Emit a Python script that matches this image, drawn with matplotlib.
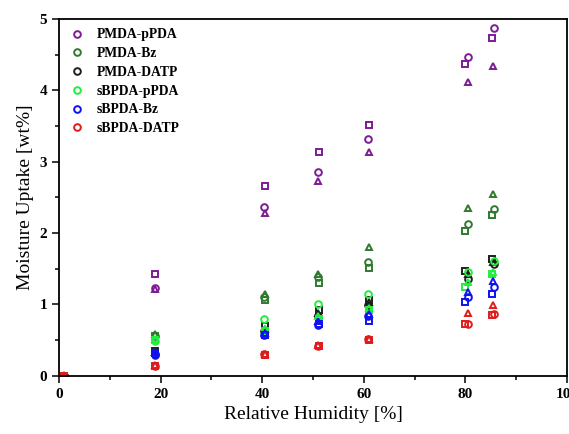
import matplotlib.pyplot as plt
from matplotlib.ticker import MultipleLocator

plt.rcParams['font.family'] = ['Liberation Serif', 'DejaVu Serif']

# Relative humidity of each measurement (three replicate samples)
rh_circle = [1, 18.8, 40.4, 50.9, 60.9, 80.5, 85.7]
rh_square = [1, 18.8, 40.6, 51.1, 61.0, 80.0, 85.3]
rh_triangle = [1, 18.8, 40.5, 50.9, 61.1, 80.5, 85.4]

labels = ['PMDA-pPDA', 'PMDA-Bz', 'PMDA-DATP', 'sBPDA-pPDA', 'sBPDA-Bz', 'sBPDA-DATP']
colors = ['#7b1c93', '#2f7a2f', '#1e1e1e', '#22ee3e', '#1010f0', '#e01b1b']

# Moisture uptake [wt%]
circle_vals = [
    [0, 1.23, 2.37, 2.85, 3.32, 4.47, 4.88],
    [0, 0.55, 1.10, 1.39, 1.60, 2.12, 2.33],
    [0, 0.31, 0.63, 0.84, 0.99, 1.35, 1.56],
    [0, 0.49, 0.80, 1.00, 1.14, 1.45, 1.61],
    [0, 0.29, 0.57, 0.71, 0.84, 1.11, 1.25],
    [0, 0.14, 0.30, 0.41, 0.51, 0.72, 0.87],
]
square_vals = [
    [0, 1.42, 2.66, 3.13, 3.51, 4.37, 4.74],
    [0, 0.55, 1.06, 1.30, 1.51, 2.03, 2.25],
    [0, 0.35, 0.70, 0.92, 1.06, 1.47, 1.64],
    [0, 0.50, 0.62, 0.80, 0.92, 1.25, 1.42],
    [0, 0.32, 0.57, 0.72, 0.76, 1.04, 1.14],
    [0, 0.13, 0.29, 0.41, 0.50, 0.72, 0.85],
]
triangle_vals = [
    [0, 1.21, 2.28, 2.73, 3.13, 4.12, 4.34],
    [0, 0.59, 1.14, 1.43, 1.80, 2.35, 2.55],
    [0, 0.33, 0.66, 0.88, 1.03, 1.42, 1.60],
    [0, 0.52, 0.66, 0.83, 0.95, 1.31, 1.46],
    [0, 0.33, 0.60, 0.76, 0.87, 1.18, 1.33],
    [0.01, 0.15, 0.31, 0.43, 0.52, 0.88, 0.99],
]

fig = plt.figure(figsize=(5.69, 4.34), dpi=100)
ax = fig.add_axes([0.1037, 0.1343, 0.8928, 0.822])

ms = 4.8
mew = 1.4
for i in range(len(labels)):
    c = colors[i]
    ax.plot(rh_circle, circle_vals[i], 'o', ms=ms, mew=mew, mfc='none', mec=c, label=labels[i])
    ax.plot(rh_square, square_vals[i], 's', ms=ms - 0.6, mew=mew, mfc='none', mec=c)
    ax.plot(rh_triangle, triangle_vals[i], '^', ms=ms, mew=mew, mfc='none', mec=c)

ax.set_xlim(0, 100)
ax.set_ylim(0, 5)
ax.xaxis.set_major_locator(MultipleLocator(20))
ax.xaxis.set_minor_locator(MultipleLocator(10))
ax.yaxis.set_major_locator(MultipleLocator(1))
ax.yaxis.set_minor_locator(MultipleLocator(0.5))
ax.tick_params(which='both', direction='out', width=1.1, top=False, right=False)
ax.tick_params(which='major', length=5, labelsize=11)
ax.tick_params(which='minor', length=3)
for lab in ax.get_xticklabels() + ax.get_yticklabels():
    lab.set_fontweight('bold')
for s in ax.spines.values():
    s.set_linewidth(1.3)

ax.set_xlabel('Relative Humidity [%]', fontsize=14)
ax.set_ylabel('Moisture Uptake [wt%]', fontsize=14)

leg = ax.legend(loc='upper left', frameon=False, prop={'weight': 'bold', 'size': 9.8},
                handletextpad=0.9, labelspacing=0.42, borderaxespad=0.3, handlelength=1.2)

fig.savefig('out.png', dpi=100)
